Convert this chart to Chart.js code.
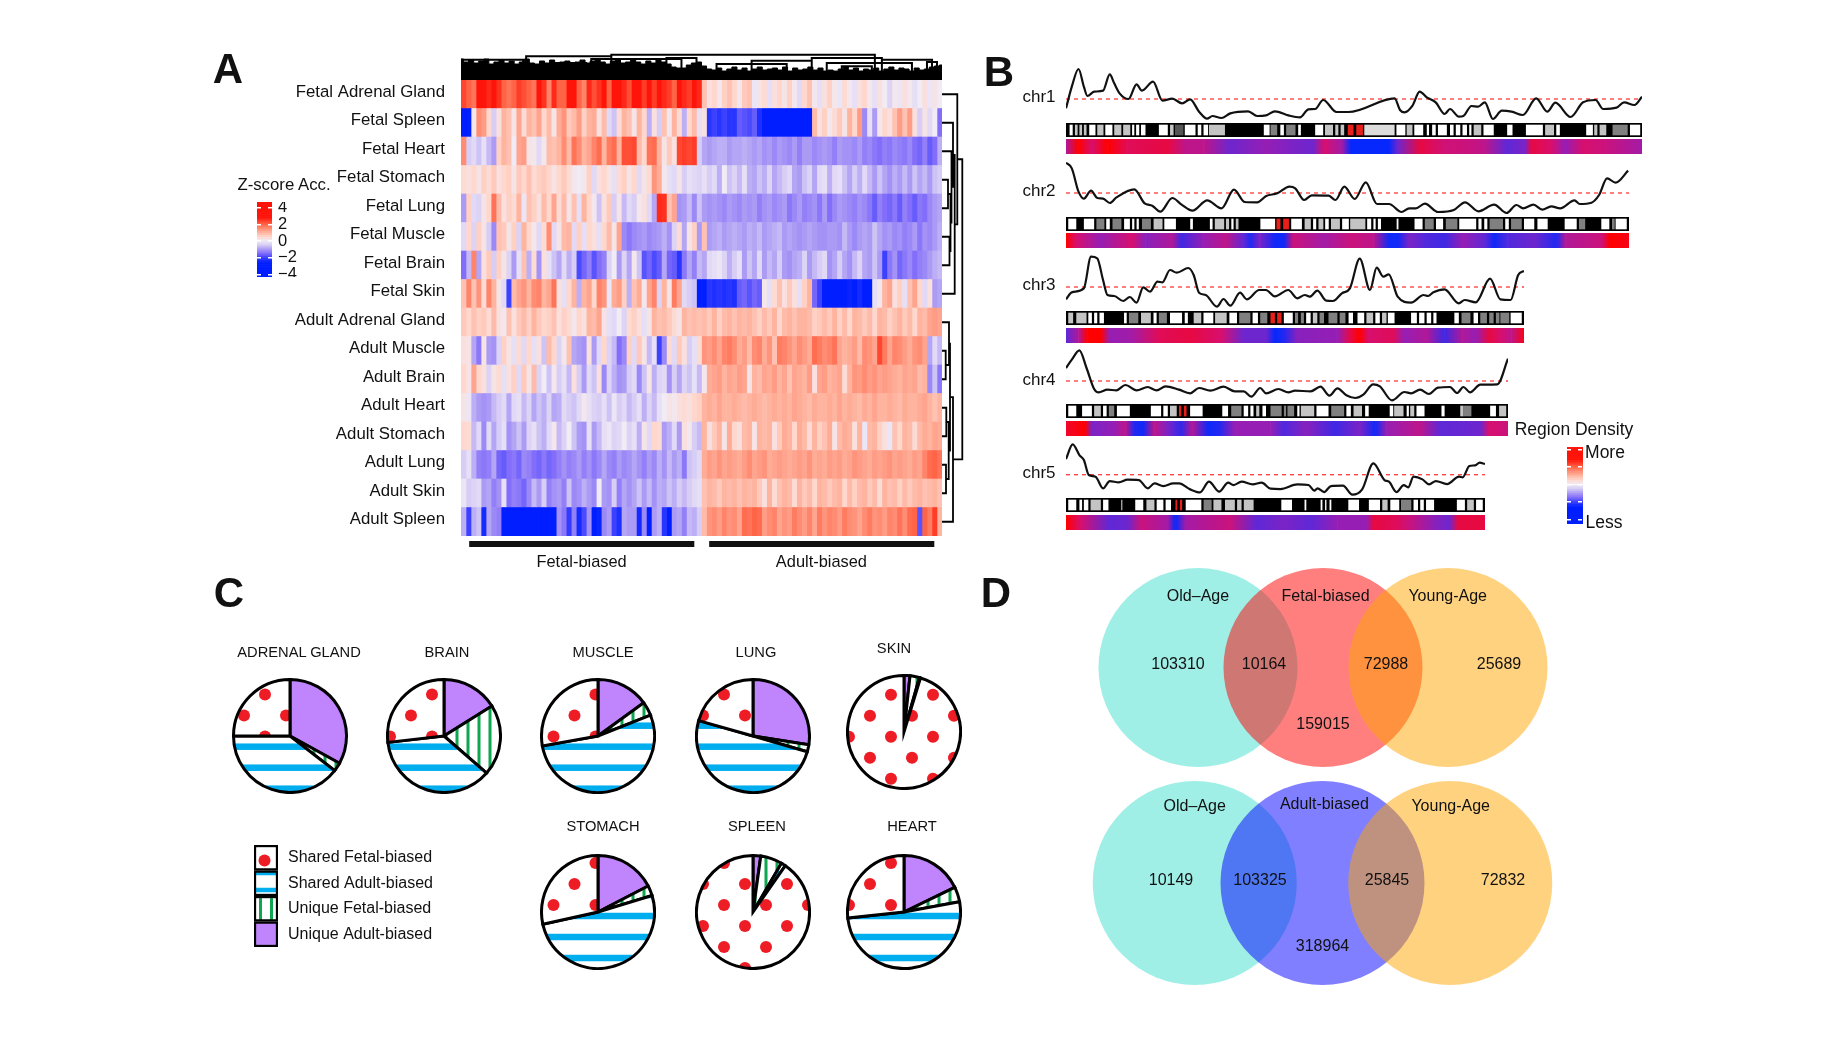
<!DOCTYPE html>
<html lang="en">
<head>
<meta charset="UTF-8">
<title>Fetal and adult biased regions</title>
<script src="https://cdn.jsdelivr.net/npm/chart.js"></script>
<style>
  html, body { margin: 0; background: #fff; }
  #fig { position: absolute; left: 0; top: 0; width: 1832px; height: 1046px; overflow: hidden; filter: blur(0.6px); font-family: "Liberation Sans", sans-serif; color: #111; }
  #fig canvas { position: absolute; }
  .t { position: absolute; white-space: nowrap; transform: translate(-50%, -50%); }
</style>
</head>
<body>
<div id="fig"></div>
<script>
// ---- panel A: z-score accessibility, tissues by region clusters ----
const rowNames = ["Fetal Adrenal Gland","Fetal Spleen","Fetal Heart","Fetal Stomach","Fetal Lung","Fetal Muscle","Fetal Brain","Fetal Skin","Adult Adrenal Gland","Adult Muscle","Adult Brain","Adult Heart","Adult Stomach","Adult Lung","Adult Skin","Adult Spleen"];
const fetalAdrenal = [2.3,2,1.8,2.8,3,2.6,3,2.5,2,1.8,2,2.4,2.2,2,1.8,2.8,2.5,1.6,2.6,2,2,2.8,2.8,2,1.6,2.6,2.2,2.5,2.8,2,2.8,3,2.6,2.2,2.8,3,2.4,3,2.4,2.8,2.6,2.4,2,2.8,2.6,2.4,2.8,2.6,
  0.8,0.3,0.5,0.1,0.6,0.8,0.5,0.1,0.7,0.8,-0.1,0.2,0.4,-0.2,0.3,0.5,0.2,0.6,0.1,-0.3,0.5,0.8,0.1,-0.2,0.3,0.6,0.1,-0.1,0.4,0.1,-0.2,0.3,0.5,0.1,-0.2,0.3,0,-0.4,0.1,-0.1,0.3,0.1,-0.2,0,0.3,-0.1,0.2,0];
const fetalSpleen = [-3,-3,0.1,1.5,1.3,0.5,-0.5,0.3,1,0.8,0.2,1.2,0.4,1,0.8,1.2,0.5,0.9,0.2,1.1,1.4,0.7,0.9,1.3,0.6,1,1.1,0.3,0.9,-0.3,-0.6,0.4,1,0.8,0.2,1,0.5,-0.8,0.3,-0.5,0.8,0.1,1,0.4,-0.8,0.5,0.9,-0.2,
  0.3,-2.2,-2,-2.2,-2,-2.2,-2.2,-1.7,-1.8,-1.9,-1.7,-2.3,-3,-3,-3,-3,-3,-3,-3,-3,-2.6,-2.6,0.9,0.3,0.6,0.1,0.4,0.7,0.2,1,0.5,1.3,-1.2,-0.2,-1,0.1,0.5,0.3,0.8,1.3,0.8,1.3,0.3,-0.5,0.2,-0.3,0,-1.5];
const fetalHeart = [1.5,-0.5,-0.3,-0.6,-0.2,-0.7,-1,0.6,1,0.8,0,1.2,1.3,0.2,0.1,-0.3,0.1,0.9,0.8,1,1.5,0.9,1.8,1.5,1,1.2,1.6,1.9,1,1.7,1.9,1,2.2,2.2,2.3,0.9,0.5,1.8,1.9,1,0.2,0.7,0.3,2.3,2.4,2.3,2.4,-0.5,
  -0.9,-1,-0.9,-0.8,-0.8,-1,-0.9,-0.9,-0.8,-0.9,-1,-0.9,-1.1,-1,-1.2,-1,-1.1,-1.2,-1,-1.3,-1,-1,-1.2,-1.1,-1,-1.1,-1.3,-1,-1.1,-1.1,-1.2,-1,-1.3,-1.2,-1.4,-1.5,-1.3,-1.4,-1.2,-1.3,-1.4,-1.2,-1.5,-1.6,-1.3,-1.7,-1.5,-0.8];
const fetalStomach = [0.4,0.3,0.5,0.2,0.6,0.4,0.7,0.3,0.5,0.6,0.2,0.7,0.5,0.8,0.4,0.6,0.7,0.5,0.2,0.5,0.7,0.4,0.1,0,0.1,0.6,-0.3,0.3,0.5,0.2,-0.2,0.4,0.6,0.2,0.5,-0.3,0.2,0.4,1.4,1.1,0.1,-0.2,-0.3,0.2,-0.5,-0.2,-0.3,-0.4,
  -0.2,-0.5,-0.3,-0.8,0,-0.6,-0.4,-0.7,-0.2,-0.8,-0.9,-0.6,-0.8,-0.4,-0.9,-0.7,-0.5,-0.3,-0.9,-1,-0.6,-0.4,-0.9,-0.3,-0.2,-0.8,-0.3,-0.2,-0.6,-0.9,-0.5,-0.8,-0.3,-0.7,-1,-0.6,-0.9,-1.1,-0.8,-1,-0.7,-1,-0.6,-0.9,-0.7,-1,-0.6,-0.5];
const fetalLung = [-1,0.6,-0.3,-0.4,0.2,0.5,1.8,0.9,0.3,0.6,0.4,1,-0.1,0.8,0.6,0.3,0.9,0.5,1.2,0.4,0.9,0.2,0.8,-0.2,1,0.5,0.1,-0.6,0.3,0.7,-0.5,0.2,-0.7,-0.3,-0.5,0.1,0.3,-0.3,-0.9,2.6,2.5,0.8,1.2,-1.1,-1,-0.7,-1.2,-0.6,
  -1,-1.1,-1,-1.1,-1.2,-1,-1.1,-1.2,-1,-1.1,-1,-1.3,-1.1,-1,-1.2,-1.1,-1,-1.4,-1.2,-1,-1.3,-1.2,-1.1,-1.4,-1,-1.5,-1.2,-1,-1.1,-1.2,-1.3,-1.1,-1.2,-1.4,-1.7,-1.3,-1.5,-1.6,-1.4,-1.7,-1.3,-1.5,-1.7,-1.4,-1.5,-1.2,-1,-0.9];
const fetalMuscle = [-0.3,0.5,-0.4,0.6,0.2,-0.5,-1.2,0.8,0.7,0.2,0.6,-0.4,1,0.5,0.1,-0.3,0.4,1.5,-0.3,0.2,0.9,1,-0.3,0.6,-0.2,0.5,0.3,-0.2,0.5,0.9,0.2,1.2,-1.2,-1.4,-1.2,-1.1,-1,-1.2,-1.1,-1,-0.8,-1.1,-0.4,0.4,-0.9,0.2,0.6,-1,
  0.8,-1,-0.9,-0.8,-1,-0.9,-0.8,-0.9,-1,-0.8,-0.9,-0.7,-1,-0.9,-0.8,-0.7,-1,-0.9,-1,-1.1,-1,-0.9,-1,-1.1,-1.1,-1,-1,-1.1,-0.7,-1,-1.2,-1,-0.9,-1,-0.6,-0.9,-1.1,-1,-1.2,-1.1,-1.3,-1.2,-1,-1.4,-1.1,-1.2,-1,-0.8];
const fetalBrain = [-1.5,-0.7,1.6,-0.9,0.3,0.7,-0.5,0.6,0.2,-0.4,-1,-0.2,0.8,-0.8,0.4,-1.1,0.3,-0.2,-0.6,-0.9,-0.3,-0.8,-0.5,-1.9,-1.6,-1.3,-1.8,-1.5,-1.3,-0.4,0,-1,-0.4,-0.9,0.1,-0.6,-1.8,-1.6,-1.9,-1.7,-0.9,-1.6,-1.7,-2.2,-1.4,-0.9,-1.3,-0.7,
  -0.9,-0.3,-0.2,-0.1,-0.4,-0.8,-0.5,-0.2,-1,-0.6,-0.9,-0.3,-1,-0.7,-0.9,-0.5,-1,-1.1,-0.9,-0.8,-0.4,-1,-0.7,-0.5,-0.3,-1.1,-0.9,-0.5,-0.9,-1.1,-0.7,-0.4,-0.9,-1,-0.6,-1,-2,-1.4,-1.1,-1.6,-1.4,-1.2,-1.5,-1.3,-1.2,-1,-0.8,-0.7];
const fetalSkin = [0.8,1.6,0.8,1.4,0.4,1.6,1,0.2,-0.3,-2,0.9,1.2,1.4,1,1.5,1.6,1,1.2,1.8,0.3,-0.2,0.5,1,-0.8,1,1.2,0.5,1.6,1.4,-0.1,1.1,1.3,0.6,-0.8,0.8,1.1,0.1,1.2,1.6,-0.4,1,0.2,1.7,1.2,-0.3,-0.5,-0.6,-3,
  -3,-2.2,-2.3,-2.2,-2.3,-2.2,-2.3,-1.7,-1.6,-1.8,-1.6,-1.7,0.1,-0.2,0.4,0.8,0.3,0.7,0.3,-0.2,0.6,1,-1.6,-2,-3,-3,-3,-3,-3,-2.5,-2.8,-2.4,-2.7,-2.8,-0.2,0.1,1,1.2,0.3,0.6,-0.2,0.8,1.2,0.5,-0.3,0.3,-1,-0.9];
const adultAdrenal = [0.7,0.5,0.8,0.6,0.7,0.4,0.9,0.3,0.1,0.8,0.3,0.7,0.9,0.6,1,0.7,0.5,0.6,0.8,0.3,0.6,0.4,0.1,0.5,0.3,1,0.9,1.2,0.2,-0.2,-0.3,0,-0.4,0.4,0.6,0.3,-0.2,0.2,1,0.8,0.9,0.7,0.4,0.2,1,0.8,0.9,0.8,
  0.9,0.7,1,0.6,0.9,1,0.8,1,0.9,1,0.8,0.6,0.9,0.7,1,0.5,0.9,1,0.8,1,1,0.9,0.6,0.7,0.9,0.7,1,0.6,0.9,0.5,1,0.9,0.7,0.9,0.5,1,0.9,0.6,0.8,1,0.7,0.9,0.5,1,0.9,1.2,1.3,1.2];
const adultMuscle = [0.3,0.2,-0.9,-1.4,0.2,-1,-1.1,-0.4,0.6,0.2,-0.2,0.4,-0.3,0.5,-0.2,0.3,-0.6,0.9,0.5,-0.4,0.1,0.8,-0.9,-1,-1.1,0.3,-1,-0.3,0.5,-0.4,-0.7,-1.5,-1.2,0.6,-0.3,0.7,0.2,-0.7,-0.2,-2,-1.2,0.4,-0.3,0.7,0.3,-0.5,-0.2,0.4,
  1.4,1.3,1.5,1.2,1.6,1.7,1.5,1.1,1.3,0.9,1.5,1.6,1.1,1.4,0.8,1.7,1.6,1.4,1.2,1.5,1.3,1.1,1.9,1.7,1.5,1.6,1.8,1.2,1,1.1,1.3,0.9,1.5,1.4,1.2,2.3,1.7,1.2,1.6,1.5,1.3,1.1,1.4,1.5,1.2,-0.9,-0.3,-0.7];
const adultBrain = [0.5,0.2,1.2,0.5,0.3,-0.4,0.2,0.4,-0.2,0.3,0.6,-0.3,0.7,0.2,0.9,-0.4,0,-0.6,0.1,-0.5,-0.2,-0.7,0.3,-0.5,-1,-0.3,-0.6,0.3,-1.2,-0.4,-0.8,-1.1,-1,-0.5,-0.3,-1.2,-0.6,0.2,-0.8,-0.4,-0.3,-1.1,-0.5,-0.9,-0.4,-0.6,-0.2,-0.7,
  0.1,1.1,1.2,1.3,1,1.2,1.1,1.3,1.2,0.2,1,0.9,1.2,1.1,1.3,1,1.2,0.8,1.2,1.1,1,1.3,0.3,1.2,1.3,1,1.1,1.2,0.4,1,1.4,1.3,1.5,1.3,1.4,1.2,1.3,1.2,1.1,1,1.2,1.1,1.2,0.9,1,-1.2,-0.6,-1.4];
const adultHeart = [0.2,-0.1,-0.8,-1,-1.1,-1,-0.7,-0.5,-0.3,-0.9,-0.3,-0.2,-0.7,-0.4,-0.9,-0.6,-0.8,-0.4,-0.9,-0.8,-0.3,-0.5,-0.6,-0.3,0.1,-0.2,-0.4,-0.5,-0.2,-0.6,-0.1,-0.5,-0.3,-0.7,-0.5,-0.2,-0.8,-0.4,-0.7,-0.2,0,0.2,0.1,0.3,0.4,0.3,0.5,0.6,
  1,1.1,1,1.2,1,1,1.1,1,0.9,1,1.1,1,0.9,1,1.1,1,1.1,1,1.2,1.1,1,0.9,1.1,1,1,1.1,1,1.2,1,1.1,1,0.9,1.1,1,1.2,1,1,1.1,1,0.9,1.1,1,1,1.1,1.2,1,0.8,1];
const adultStomach = [0.5,0.4,-0.7,-0.3,-1.2,-0.3,-0.9,-0.5,-0.2,-1.1,-0.9,-0.6,-1,-0.4,-0.2,-0.6,-0.8,-0.3,0.1,-0.7,-0.4,0,-0.6,-1,-1.1,-0.2,-1,-0.7,-0.2,-0.1,-0.4,-0.3,0,-0.4,-0.2,-0.8,0.2,-0.3,0.5,0.4,-1,-0.8,-0.3,-1,0.3,0.1,-0.5,-0.7,
  1,0.3,0.7,1,0.2,1.1,0.5,0.3,0.9,1,0.2,1,0.9,1,0.3,0.7,1.1,1,0.5,1.1,0.9,0.4,1,0.6,0.8,1.1,0.2,0.9,1.1,1,0.3,1,-0.1,0.9,1,0.6,0.3,-0.1,0.8,0.5,1,0.9,0.4,0.9,1.1,1,1.2,1.1];
const adultLung = [-0.5,-0.2,-0.8,-1.3,-1.4,-1.3,-0.9,-1.6,-1.7,-1.5,-1.4,-1.6,-1.2,-1.3,-1.5,-1.6,-1.4,-1.6,-1.5,-1.3,-1.1,-1.3,-1.2,-1,-1.3,-1.1,-1.4,-1.2,-0.9,-1.2,-1.3,-1,-1.2,-1.1,-0.9,-1.1,-1.3,-1,-1.2,-0.8,-1.1,-0.7,-1,-0.8,-1.4,-0.6,-0.5,-0.3,
  1.1,1.3,1.2,1.4,1.2,1.3,1.2,1.1,1.3,1.5,1.2,1.3,1.4,1.1,1.2,1.3,1.2,1.1,1.2,1.3,1.2,1.4,1.1,1.2,1.1,1.3,1.2,1.3,1.1,1.2,1.4,1.3,1.2,1.1,1.3,1.2,1.3,1.4,1.2,1.3,1.2,1.1,1.3,1.2,1.6,1.9,2,1.8];
const adultSkin = [-0.1,-0.5,-0.4,-0.3,-1,-0.9,-1.3,-1.1,-0.2,-1.5,-1.3,-1.4,-1.6,-1.2,-0.7,-1,-0.5,-1.3,-1.1,-1,-1.3,-0.6,-1.2,-1.1,-0.8,-1,-1.2,0,-1,-1.1,-0.5,-1.3,-0.9,-1.1,-0.9,-0.6,-1,-0.7,-1.1,-0.8,-0.9,-0.6,-0.8,-0.5,-0.7,-0.5,-0.3,-0.2,
  0.8,1,0.9,0.7,1,0.9,1,0.8,1,0.9,1,0.7,0.3,1,0.4,0.8,1,0.9,0.4,1,0.7,0.9,0.5,1,0.9,0.7,0.9,1,0.5,0.9,0.6,0.9,1,0.7,0.9,0.4,1,0.8,0.9,0.6,0.9,0.7,0.9,1,0.8,0.9,1,0.8];
const adultSpleen = [-0.8,-2,-0.8,-0.6,-2.4,-0.9,-1.2,-1.3,-2.6,-3,-2.8,-3,-3,-3,-2.9,-2.8,-3,-2.6,-3,-1.1,-1.4,-2.1,-1.3,-2.4,-1.9,-1.1,-2.6,-2.5,-1.2,-1,-2,-2.3,-0.9,-1,-1,-2.4,-1.2,-2.8,-1,-0.8,-2.2,-2.9,-1,-0.9,-1.3,-0.7,-0.8,-0.5,
  0.9,1.4,1.5,1.3,1.6,1.4,1.5,1.2,1.9,1.8,2,1.9,1.3,1.5,1.6,1.2,1.4,1.3,1.7,1.5,1.3,1.6,1.2,1.7,1.4,1.6,1.5,1.3,1.7,1.5,1.4,1.2,1.5,1.7,1.4,1.5,1.3,1.6,1.5,1.8,1.5,1.9,2,-1.8,2,1.7,2.4,1];
const heatRows = [fetalAdrenal,fetalSpleen,fetalHeart,fetalStomach,fetalLung,fetalMuscle,fetalBrain,fetalSkin,adultAdrenal,adultMuscle,adultBrain,adultHeart,adultStomach,adultLung,adultSkin,adultSpleen];

// top dendrogram: merge height over each column, then the upper brackets
const dendroHeight = [21,18,20,17,19,21,16,18,20,17,19,16,18,21,17,16,19,17,20,16,18,19,16,18,20,17,19,21,18,16,19,21,17,18,20,18,16,19,17,20,18,16,13,12,12,15,17,18,
  14,11,10,12,9,11,13,10,12,9,11,13,10,11,12,10,13,9,12,10,11,13,10,12,9,10,9,11,13,10,12,9,11,10,12,9,11,13,10,12,11,9,12,10,11,13,14,15];
const bracketFrom = [30,13,0,26,41,18,58,51,70,73,84,93,76];
const bracketTo = [82.6,30,12.4,44,47,25,70,65,84,90,94,95,82];
const bracketHeight = [25.3,23.7,20.3,21,22,17,19.3,16,22,17,20.3,18,13.7];
// row dendrogram: [child, child, height]; child >= 0 is a row, child < 0 is merge -child-1
const rowMerges = [[3,4,6],[5,6,7.5],[-1,-2,8.5],[2,-3,9.5],[1,-4,11],[7,-5,12.7],[0,-6,15.3],
  [9,10,3.7],[8,-8,7],[11,12,4.3],[13,14,4],[-10,-11,6.7],[-9,-12,8],[-13,15,11],[-7,-14,20.3]];
const groupStart = [1.7,49.6];
const groupEnd = [46.5,94.4];
const zTicks = [-4,-2,0,2,4];

// ---- panel B: region density along chromosomes ----
const chrNames = ["chr1","chr2","chr3","chr4","chr5"];
const chrLength = [1290,1260,1026,990,938];
const chr1Pos = [0,13,28,40,48,63,83,98,108,120,140,158,170,195,216,238,260,278,298,316,328,348,368,408,428,448,468,498,524,543,558,576,606,633,736,748,758,776,792,808,828,848,860,880,890,908,923,938,956,976,998,1023,1053,1078,1096,1130,1158,1186,1203,1233,1250,1273,1290];
const chr1Val = [-28,37,90,37,9,22,25,74,47,17,0,44,25,52,-5,1,-13,-1,-38,-59,-51,-57,-43,-37,-51,-49,-37,-49,-55,-31,-30,-3,-39,-39,2,-33,-40,-20,22,5,-10,-45,-30,-53,-51,-21,-23,-10,-60,-35,-38,-48,2,-38,-11,-54,-10,-3,-30,-26,-10,-18,7];
const chr2Pos = [0,13,28,40,56,70,83,98,113,153,176,193,211,238,258,283,316,348,376,400,428,448,473,500,513,533,550,588,603,623,646,671,696,723,751,768,783,803,833,868,893,923,958,986,1008,1023,1046,1066,1086,1106,1138,1150,1176,1193,1211,1230,1258];
const chr2Val = [91,74,4,-17,7,-15,-17,-30,-13,11,-31,-38,-56,-15,-34,-53,-22,-46,10,-27,-28,-9,-1,19,14,-21,-7,-8,-21,19,-18,32,-33,-33,-57,-46,-46,-32,-57,-51,-28,-55,-35,-60,-36,-46,-35,-50,-40,-46,-22,-33,-29,-6,44,31,67];
const chr3Pos = [0,13,40,56,70,83,93,108,128,143,158,173,188,205,216,233,248,274,286,298,313,338,353,368,390,405,433,448,468,498,518,535,546,563,583,598,618,636,658,681,696,711,723,743,773,801,811,823,848,880,893,918,950,973,996,1013,1026];
const chr3Val = [-37,-16,-4,91,86,21,-24,-27,-42,-30,-47,-1,-14,16,14,51,43,57,36,-17,-24,-59,-36,-56,-17,-37,-9,-9,-28,-9,-34,-24,-29,-11,-41,-42,-19,-4,85,-9,58,31,38,-29,-47,-24,-27,-16,-7,-49,-39,-46,25,-37,-39,36,48];
const chr4Pos = [0,13,30,46,63,73,93,113,133,158,183,203,223,253,278,298,323,353,378,398,415,435,448,476,498,513,548,570,590,608,628,648,666,688,703,730,758,773,793,813,833,860,876,890,905,928,966,990];
const chr4Val = [39,64,92,39,-24,-34,-26,-28,-12,-28,-18,-28,-16,-26,-37,-21,-29,-17,-31,-31,-47,-21,-37,-24,-34,-29,-31,-17,-44,-22,-43,-51,-41,-10,-16,-58,-33,-37,-26,-39,-20,-18,-36,-18,-34,-11,-10,67];
const chr5Pos = [0,15,30,40,51,66,83,98,118,138,163,183,198,218,240,253,278,300,320,343,363,375,393,418,438,458,480,518,543,556,563,578,593,620,641,663,688,713,723,740,756,766,778,798,813,828,853,880,888,903,916,926,938];
const chr5Val = [47,91,59,44,-1,-6,-41,-19,-23,-15,-16,-41,-26,-34,-26,-26,-44,-53,-21,-51,-24,-31,-21,-29,-24,-42,-43,-29,-31,-48,-41,-52,-34,-33,-60,-44,34,-16,-21,-52,-31,-38,-6,-14,-29,-19,-28,-6,-8,26,28,36,32];
const densityPos = [chr1Pos,chr2Pos,chr3Pos,chr4Pos,chr5Pos];
const densityVal = [chr1Val,chr2Val,chr3Val,chr4Val,chr5Val];

// cytobands: start, end, stain (gaps are black bands)
const chr1Bands = [[8,15,'w'],[20,26,'l'],[30,36,'l'],[40,46,'l'],[52,66,'w'],[70,84,'l'],[88,104,'w'],[108,124,'l'],[128,144,'l'],[148,153,'w'],[157,164,'w'],[168,178,'w'],[208,228,'w'],[233,241,'l'],[244,263,'d'],[266,290,'w'],[295,303,'w'],[308,318,'w'],[320,356,'l'],[443,456,'w'],[458,473,'g'],[480,488,'w'],[493,514,'g'],[520,526,'w'],[558,576,'w'],[580,598,'l'],[603,610,'l'],[615,623,'l'],[631,644,'r'],[650,665,'r'],[668,736,'p'],[740,760,'w'],[763,776,'l'],[780,800,'w'],[808,813,'w'],[820,828,'w'],[833,853,'w'],[860,868,'w'],[873,883,'w'],[888,898,'w'],[903,908,'w'],[913,930,'l'],[935,958,'w'],[988,1000,'w'],[1030,1068,'w'],[1073,1093,'l'],[1098,1106,'w'],[1165,1180,'w'],[1183,1190,'l'],[1195,1210,'l'],[1224,1258,'g'],[1263,1286,'w']];
const chr2Bands = [[5,23,'w'],[40,63,'w'],[68,86,'g'],[90,98,'w'],[104,124,'g'],[130,143,'w'],[148,153,'w'],[158,163,'w'],[170,190,'g'],[196,206,'l'],[206,216,'l'],[220,246,'w'],[278,284,'w'],[322,328,'w'],[333,354,'l'],[358,365,'l'],[370,375,'w'],[380,386,'l'],[435,468,'w'],[471,480,'r'],[486,499,'r'],[504,528,'w'],[534,548,'l'],[553,560,'w'],[565,576,'l'],[580,588,'w'],[593,613,'l'],[618,633,'w'],[636,670,'l'],[674,683,'w'],[688,693,'w'],[698,705,'w'],[740,744,'w'],[780,798,'w'],[803,823,'g'],[828,844,'w'],[850,876,'g'],[880,918,'w'],[923,930,'w'],[936,943,'w'],[948,978,'g'],[983,991,'w'],[996,1020,'g'],[1025,1048,'w'],[1055,1078,'w'],[1116,1143,'w'],[1148,1162,'g'],[1198,1216,'w'],[1222,1228,'g'],[1230,1255,'w']];
const chr3Bands = [[5,16,'l'],[23,46,'l'],[50,58,'w'],[63,70,'w'],[75,85,'w'],[130,136,'w'],[141,162,'g'],[168,190,'l'],[196,203,'w'],[208,226,'g'],[233,260,'w'],[266,273,'w'],[286,303,'l'],[308,330,'w'],[334,360,'l'],[366,383,'w'],[388,413,'g'],[418,430,'w'],[435,451,'g'],[458,468,'r'],[473,483,'r'],[488,508,'w'],[513,520,'g'],[526,533,'g'],[538,548,'w'],[553,563,'l'],[568,578,'g'],[588,608,'g'],[613,626,'g'],[633,643,'w'],[653,668,'w'],[673,688,'l'],[693,703,'w'],[708,718,'l'],[721,736,'w'],[773,786,'w'],[791,803,'w'],[808,818,'w'],[823,830,'w'],[870,880,'w'],[886,906,'g'],[913,923,'w'],[928,943,'g'],[948,958,'g'],[963,971,'g'],[973,993,'g'],[996,1021,'w']];
const chr4Bands = [[5,23,'w'],[36,58,'w'],[63,78,'l'],[83,91,'w'],[96,108,'g'],[114,143,'w'],[190,213,'w'],[218,228,'w'],[233,248,'l'],[253,258,'r'],[264,270,'r'],[278,306,'w'],[350,363,'w'],[370,393,'g'],[398,408,'w'],[413,420,'w'],[426,433,'l'],[440,448,'w'],[458,483,'g'],[488,493,'g'],[496,511,'g'],[518,523,'w'],[526,556,'l'],[561,588,'w'],[594,623,'g'],[628,638,'w'],[644,663,'l'],[670,678,'w'],[725,733,'w'],[735,756,'l'],[763,768,'w'],[771,780,'l'],[785,803,'w'],[841,848,'w'],[883,890,'l'],[890,908,'g'],[950,963,'w'],[970,986,'l']];
const chr5Bands = [[5,23,'w'],[30,36,'w'],[40,50,'w'],[55,78,'l'],[83,95,'w'],[124,126,'w'],[155,173,'w'],[180,198,'l'],[203,218,'w'],[223,235,'w'],[245,249,'r'],[255,260,'r'],[268,303,'w'],[308,326,'g'],[330,348,'l'],[356,378,'l'],[383,393,'l'],[398,420,'l'],[482,506,'w'],[534,538,'w'],[570,574,'w'],[580,583,'w'],[590,594,'w'],[632,656,'w'],[678,703,'w'],[708,720,'l'],[726,746,'w'],[750,773,'g'],[778,788,'w'],[793,801,'w'],[806,824,'w'],[875,893,'w'],[898,913,'l'],[918,933,'w']];
const chrBands = [chr1Bands,chr2Bands,chr3Bands,chr4Bands,chr5Bands];

// density strip under each chromosome, 0 = least, 1 = most
const strip1Pos = [0,28,58,93,138,228,268,308,368,448,508,553,578,618,638,723,743,793,848,898,938,988,1028,1043,1088,1118,1158,1208,1290];
const strip1Lvl = [.6,1,.75,1,.8,.85,.65,.65,.35,.5,.4,.35,.75,.55,.02,.02,.35,.85,.72,.7,.65,.3,.4,.85,.75,.5,.75,.7,.55];
const strip2Pos = [0,23,78,148,178,238,258,308,358,398,413,433,468,488,508,578,638,688,723,743,768,808,848,888,938,958,988,1048,1098,1118,1198,1218,1260];
const strip2Lvl = [1,.75,.5,.75,.45,.6,.2,.5,.65,.3,.1,.4,.05,.05,.7,.55,.7,.65,.05,.05,.4,.25,.2,.5,.3,.05,.25,.35,.1,.6,.7,1,.95];
const strip3Pos = [0,28,48,78,98,148,208,278,348,398,448,468,488,518,608,638,658,678,733,758,808,848,888,918,948,973,998,1026];
const strip3Lvl = [.3,.6,1,1,.5,.55,.8,.85,.75,.35,.35,.02,.1,.45,.5,.85,1,.75,.8,.5,.6,.2,.6,.5,.85,.75,.65,.95];
const strip4Pos = [0,43,58,108,133,153,173,198,228,258,283,318,343,378,458,488,538,603,658,693,718,793,838,928,948,990];
const strip4Lvl = [.9,1,.4,.5,.65,.1,.05,.65,.4,.15,.6,.05,.1,.5,.5,.25,.45,.2,.4,.05,.5,.65,.3,.35,.75,.7];
const strip5Pos = [0,33,98,138,168,228,245,268,368,428,488,548,608,673,688,738,768,828,858,878,938];
const strip5Lvl = [1,.75,.3,.35,.7,.55,.02,.55,.7,.3,.4,.3,.5,.5,.85,.8,.7,.45,.35,.85,.85];
const stripPos = [strip1Pos,strip2Pos,strip3Pos,strip4Pos,strip5Pos];
const stripLvl = [strip1Lvl,strip2Lvl,strip3Lvl,strip4Lvl,strip5Lvl];

// ---- panel C: percent of each class per tissue ----
const pieNames = ["ADRENAL GLAND","BRAIN","MUSCLE","LUNG","SKIN","STOMACH","SPLEEN","HEART"];
const uniqueAdult = [33,16.1,15,27.5,1.7,17.4,2.2,17.8];
const uniqueFetal = [2.5,20.3,4,2,2.7,2.9,6.2,4.3];
const sharedAdult = [39.5,36.8,53.2,49.9,0.3,51.2,1.3,51.2];
const sharedFetal = [25,26.8,27.8,20.6,95.3,28.5,90.3,26.7];
const classNames = ["Shared Fetal-biased","Shared Adult-biased","Unique Fetal-biased","Unique Adult-biased"];

// ---- panel D: region counts ----
const vennTopNames = ["Old\u2013Age","Fetal-biased","Young-Age"];
const vennTopCounts = [103310,10164,159015,72988,25689];
const vennBottomNames = ["Old\u2013Age","Adult-biased","Young-Age"];
const vennBottomCounts = [10149,103325,318964,25845,72832];
const vennSetX = [-1,0,1];

// ---- helpers ----
const fig = document.getElementById("fig");
Chart.defaults.animation = false;
Chart.defaults.responsive = false;
Chart.defaults.color = "#111";
Chart.defaults.font.family = "'Liberation Sans', sans-serif";
Chart.defaults.font.size = 16;
Chart.defaults.layout.autoPadding = false;
Chart.defaults.plugins.legend.display = false;
Chart.defaults.plugins.tooltip.enabled = false;

function makeCanvas(x, y, w, h) {
  const c = document.createElement("canvas");
  c.width = w; c.height = h;
  c.style.left = x + "px"; c.style.top = y + "px";
  c.style.width = w + "px"; c.style.height = h + "px";
  fig.appendChild(c);
  return c;
}
function label(str, x, y, size, bold) {
  const d = document.createElement("div");
  d.className = "t";
  d.textContent = str;
  d.style.left = x + "px"; d.style.top = y + "px";
  d.style.fontSize = (size || 16) + "px";
  if (bold) d.style.fontWeight = "bold";
  fig.appendChild(d);
}
// side axis of fixed width that keeps the plot area at full height
function fixAxis(s, width) {
  s.width = width;
  s.paddingTop = 0;
  s.paddingBottom = 0;
}
function mix(stops, v) {
  if (v <= stops[0][0]) return stops[0].slice(1);
  for (let i = 1; i < stops.length; i++) {
    if (v <= stops[i][0]) {
      const a = stops[i-1], b = stops[i], t = (v - a[0]) / (b[0] - a[0]);
      return [1,2,3].map(k => a[k] + (b[k] - a[k]) * t);
    }
  }
  return stops[stops.length-1].slice(1);
}
const rgb = c => `rgb(${c.map(Math.round).join(",")})`;
const zStops = [[-2.6,0,30,255],[-2,60,65,255],[-1.5,130,110,250],[-1,172,155,245],[-0.5,215,205,245],[0,240,235,245],[0.5,255,215,205],[1,255,180,160],[1.5,255,140,115],[2,255,100,70],[2.8,255,20,10]];
const zColor = z => rgb(mix(zStops, z));
const lvlStops = [[0,0,40,255],[0.3,95,40,215],[0.5,150,30,180],[0.75,215,15,110],[1,255,0,0]];
const lvlColor = v => rgb(mix(lvlStops, v));

const hiddenScale = (min, max) => ({ type: "linear", display: false, min, max });
const hiddenCat = { display: false, offset: true, grid: { display: false } };

// horizontal bands on one category, first dataset on top
function bandChart(x, y, w, h, len, datasets) {
  return new Chart(makeCanvas(x, y, w, h), {
    type: "bar",
    data: { labels: [""], datasets },
    options: {
      indexAxis: "y",
      layout: { padding: 0 },
      scales: { x: hiddenScale(0, len), y: hiddenCat }
    }
  });
}

// ---- A: heatmap ----
const heatLeft = 461, heatTop = 80, heatW = 481, heatH = 456, axisW = 211;
const nCols = heatRows[0].length;
new Chart(makeCanvas(heatLeft - axisW, heatTop, axisW + heatW, heatH), {
  type: "bar",
  data: {
    labels: rowNames,
    datasets: Array.from({ length: nCols }, (_, c) => ({
      data: rowNames.map(() => 1),
      backgroundColor: heatRows.map(r => zColor(r[c])),
      borderWidth: 0, barPercentage: 1, categoryPercentage: 1
    }))
  },
  options: {
    indexAxis: "y",
    layout: { padding: 0 },
    scales: {
      x: { type: "linear", stacked: true, display: false, min: 0, max: nCols },
      y: {
        stacked: true,
        grid: { display: false, drawTicks: false },
        border: { display: false },
        ticks: { autoSkip: false, padding: 16, labelOffset: -2, color: "#111", font: { size: 16.8 } },
        afterFit(s) { fixAxis(s, axisW); }
      }
    }
  }
});

// top dendrogram
const bracketPts = [];
bracketFrom.forEach((a, i) => {
  const b = bracketTo[i], h = bracketHeight[i];
  bracketPts.push({x:a,y:8},{x:a,y:h},{x:b,y:h},{x:b,y:8},{x:null,y:null});
});
new Chart(makeCanvas(heatLeft, 52, heatW, 28), {
  type: "scatter",
  data: { datasets: [
    { data: bracketPts, showLine: true, pointRadius: 0, borderColor: "#000", borderWidth: 2, spanGaps: false },
    { data: dendroHeight.map((h, c) => ({ x: c * nCols / (dendroHeight.length - 1), y: h })), showLine: true, stepped: "middle", pointRadius: 0,
      borderColor: "#000", borderWidth: 1, backgroundColor: "#000", fill: "origin" }
  ] },
  options: { layout: { padding: 0 }, scales: { x: hiddenScale(0, nCols), y: hiddenScale(0, 28) } }
});

// right dendrogram
const mergePos = [], rowTreePts = [];
rowMerges.forEach(([a, b, h], i) => {
  const pos = k => k >= 0 ? k : mergePos[-k-1];
  const hgt = k => k >= 0 ? 0 : rowMerges[-k-1][2];
  rowTreePts.push({x:hgt(a),y:pos(a)},{x:h,y:pos(a)},{x:h,y:pos(b)},{x:hgt(b),y:pos(b)},{x:null,y:null});
  mergePos[i] = (pos(a) + pos(b)) / 2;
});
new Chart(makeCanvas(heatLeft + heatW, heatTop, 28, heatH), {
  type: "scatter",
  data: { datasets: [{ data: rowTreePts, showLine: true, pointRadius: 0, borderColor: "#000", borderWidth: 1.8, spanGaps: false }] },
  options: { layout: { padding: 0 }, scales: { x: hiddenScale(0, 28), y: { type: "linear", display: false, min: -0.5, max: 15.5, reverse: true } } }
});

// group bars under the heatmap
bandChart(heatLeft, 541, heatW, 6, nCols, groupStart.map((s, i) => ({
  data: [[s, groupEnd[i]]], backgroundColor: "#111", grouped: false, barPercentage: 1, categoryPercentage: 1, borderWidth: 0
})));
label("Fetal-biased", 581.6, 561, 16.4);
label("Adult-biased", 821.4, 561, 16.4);

// colour keys
function colorKey(x, y, w, axisWidth, h, min, max, ticks, showLabels) {
  const cells = [];
  for (let z = min; z < max; z += 0.25) cells.push(z);
  new Chart(makeCanvas(x, y, w + axisWidth, h), {
    type: "bar",
    data: { labels: [""], datasets: cells.map(z => ({
      data: [[z, z + 0.25]], backgroundColor: zColor(z + 0.125), grouped: false,
      barPercentage: 1, categoryPercentage: 1, borderWidth: 0
    })) },
    options: {
      layout: { padding: 0 },
      scales: {
        x: hiddenCat,
        y: {
          type: "linear", position: "right", min, max,
          grid: { color: "#fff", z: 1, drawTicks: false, lineWidth: 1.5 },
          border: { display: false, dash: [4, 7] },
          afterBuildTicks(s) { s.ticks = ticks.map(value => ({ value })); },
          afterFit(s) { fixAxis(s, axisWidth); },
          ticks: { display: showLabels, autoSkip: false, padding: 6, font: { size: 16.5 },
            callback: v => v < 0 ? "\u2212" + (-v) : String(v) }
        }
      }
    }
  });
}
colorKey(257, 202, 15, 32, 75, -4.3, 4.7, zTicks, true);
label("Z-score Acc.", 284, 185, 16.8);
colorKey(1567, 447, 16, 0, 77, -4.5, 4.3, zTicks, false);
label("Region Density", 1574, 428.7, 17.5);
label("More", 1605, 452, 17.5);
label("Less", 1604, 522, 17.5);

// ---- B: chromosomes ----
const stainColors = { w: "#fff", p: "#dcdcdc", l: "#c4c4c4", g: "#808080", d: "#555", r: "#e8201c" };
const chrLeft = 1066, unitPerPx = 2.24;
const dashY = [99, 193, 287, 381, 474.7];
const ideoY = [123, 217, 311, 404, 498];
const stripY = [139, 233, 328, 421, 515];
const chrLabelY = [96.7, 191, 285, 380, 473.3];
chrNames.forEach((name, i) => {
  const len = chrLength[i], w = Math.round(len / unitPerPx);
  label(name, 1039, chrLabelY[i], 17);
  // density trace with reference line
  const top = Math.round(dashY[i] - 37), ymax = (dashY[i] - top) * 3;
  new Chart(makeCanvas(chrLeft, top, w, 65), {
    type: "scatter",
    data: { datasets: [
      { data: densityPos[i].map((x, k) => ({ x, y: densityVal[i][k] })), showLine: true, pointRadius: 0, borderColor: "#111", borderWidth: 2.2, cubicInterpolationMode: "monotone" },
      { data: [{x:0,y:0},{x:len,y:0}], showLine: true, pointRadius: 0, borderColor: "#ff3b3b", borderWidth: 1.3, borderDash: [4, 4] }
    ] },
    options: { layout: { padding: 0 }, scales: { x: hiddenScale(0, len), y: hiddenScale(ymax - 195, ymax) } }
  });
  // ideogram
  const bandSets = chrBands[i].map(b => ({
    data: [[b[0], b[1]]], backgroundColor: stainColors[b[2]], grouped: false, barPercentage: 0.76, categoryPercentage: 1, borderWidth: 0
  }));
  bandSets.push({ data: [[0, len]], backgroundColor: "#000", grouped: false, barPercentage: 1, categoryPercentage: 1, borderWidth: 0 });
  bandChart(chrLeft, ideoY[i], w, 14, len, bandSets);
  // density strip, one gradient shared by its cells
  const pos = stripPos[i], lvl = stripLvl[i];
  const fill = c => {
    if (!c.chart.$fill) {
      const g = c.chart.ctx.createLinearGradient(0, 0, w, 0);
      pos.forEach((p, k) => g.addColorStop(p / len, lvlColor(lvl[k])));
      c.chart.$fill = g;
    }
    return c.chart.$fill;
  };
  bandChart(chrLeft, stripY[i], w, 15, len, pos.slice(0, -1).map((p, k) => ({
    data: [[p, pos[k+1]]], backgroundColor: fill, grouped: false, barPercentage: 1, categoryPercentage: 1, borderWidth: 0
  })));
});

// ---- C: pies with hatched fills ----
const RED = "#ee1c25", CYAN = "#00aeef", GREEN = "#0fa650", PURPLE = "#c084fc";
function tile(w, h, draw) {
  const c = document.createElement("canvas");
  c.width = w; c.height = h;
  const g = c.getContext("2d");
  g.fillStyle = "#fff"; g.fillRect(0, 0, w, h);
  draw(g);
  return g.createPattern(c, "repeat");
}
function dots(dx, dy) {
  return tile(42, 42, g => {
    g.fillStyle = RED;
    for (let a = -2; a <= 2; a++) for (let b = -2; b <= 2; b++) {
      [[0,0],[21,21]].forEach(o => {
        g.beginPath();
        g.arc(dx + o[0] + a*42, dy + o[1] + b*42, 6, 0, Math.PI*2);
        g.fill();
      });
    }
  });
}
function stripes(center, period, thick) {
  return tile(4, period, g => {
    g.fillStyle = CYAN;
    for (let k = -2; k <= 2; k++) g.fillRect(0, center + k*period - thick/2, 4, thick);
  });
}
function bars(center, period, thick) {
  return tile(period, 4, g => {
    g.fillStyle = GREEN;
    for (let k = -2; k <= 2; k++) g.fillRect(center + k*period - thick/2, 0, thick, 4);
  });
}
const pieX = [289.7,443.8,598,753.1,904.3,598,753.1,904.3];
const pieY = [736.4,736.4,736.4,736.4,732,911.6,911.6,911.6];
const titleX = [299,447,603,756,894,603,757,912];
const titleY = [652,652,652,652,647.5,826,826,826];
const dotDx = [-25,-12,-2.5,-29,-13,-2.5,-8,-13];
const dotDy = [-41.6,-41.6,-41.6,-41.6,-37.2,-49,-27.9,-49];
const stripeDy = [10.7,10.7,10.7,10.7,10.7,4,4,4];
const pieSize = 116;
pieNames.forEach((name, i) => {
  const half = pieSize / 2;
  const dotX = half + dotDx[i], dotY = half + dotDy[i];
  new Chart(makeCanvas(Math.round(pieX[i] - half), Math.round(pieY[i] - half), pieSize, pieSize), {
    type: "pie",
    data: { labels: ["Unique Adult-biased","Unique Fetal-biased","Shared Adult-biased","Shared Fetal-biased"], datasets: [{
      data: [uniqueAdult[i], uniqueFetal[i], sharedAdult[i], sharedFetal[i]],
      backgroundColor: [PURPLE, bars((half + 24) % 11, 11, 3), stripes((half + stripeDy[i]) % 21, 21, 6.5), dots(dotX, dotY)],
      borderColor: "#000", borderWidth: 3, borderJoinStyle: "miter"
    }] },
    options: { layout: { padding: 0 } }
  });
  label(name, titleX[i], titleY[i], 14.7);
});

// legend
const legendAxis = 176;
new Chart(makeCanvas(254, 845, 24 + legendAxis, 102), {
  type: "bar",
  data: { labels: classNames, datasets: [{
    data: classNames.map(() => 1),
    backgroundColor: [dots(10.5, 15.6), stripes(11, 17, 4.5), bars(6.5, 11, 3), PURPLE],
    borderColor: "#000", borderWidth: 2.5, borderSkipped: false, barPercentage: 1, categoryPercentage: 1
  }] },
  options: {
    indexAxis: "y",
    layout: { padding: 0 },
    scales: {
      x: hiddenScale(0, 1),
      y: {
        position: "right",
        grid: { display: false, drawTicks: false },
        border: { display: false },
        ticks: { padding: 10, font: { size: 16 } },
        afterFit(s) { fixAxis(s, legendAxis); }
      }
    }
  }
});

// ---- D: venn diagrams, overlap colours come from the alpha ----
const vennColors = ["rgba(64,224,208,.5)", "rgba(255,0,0,.5)", "rgba(255,165,0,.5)"];
const vennColors2 = ["rgba(64,224,208,.5)", "rgba(0,0,255,.5)", "rgba(255,165,0,.5)"];
function venn(x, y, w, h, r, colors) {
  new Chart(makeCanvas(x, y, w, h), {
    type: "bubble",
    data: { datasets: vennSetX.map((vx, i) => ({
      data: [{ x: vx, y: 0, r }], backgroundColor: colors[i], borderWidth: 0, hoverRadius: 0, clip: false
    })).reverse() },
    options: { layout: { padding: 0 }, scales: { x: hiddenScale(-2, 2), y: hiddenScale(-1, 1) } }
  });
}
venn(1073, 555, 500, 225, 99.5, vennColors);
venn(1067, 768, 511, 230, 102, vennColors2);

const vennTopNameX = [1198,1325.6,1447.7];
vennTopNames.forEach((n, i) => label(n, vennTopNameX[i], 596));
const vennTopCountX = [1178,1264,1323,1386,1499];
const vennTopCountY = [664,664,724.3,664,664];
vennTopCounts.forEach((n, i) => label(String(n), vennTopCountX[i], vennTopCountY[i]));
const vennBottomNameX = [1194.7,1324.4,1450.7];
const vennBottomNameY = [806,804.3,806];
vennBottomNames.forEach((n, i) => label(n, vennBottomNameX[i], vennBottomNameY[i]));
const vennBottomCountX = [1171,1260,1322.5,1387,1503];
const vennBottomCountY = [880,880,946,880,880];
vennBottomCounts.forEach((n, i) => label(String(n), vennBottomCountX[i], vennBottomCountY[i]));

// panel letters
label("A", 228, 69, 42, true);
label("B", 999, 72, 42, true);
label("C", 229, 593, 42, true);
label("D", 996, 593, 42, true);
</script>
</body>
</html>
